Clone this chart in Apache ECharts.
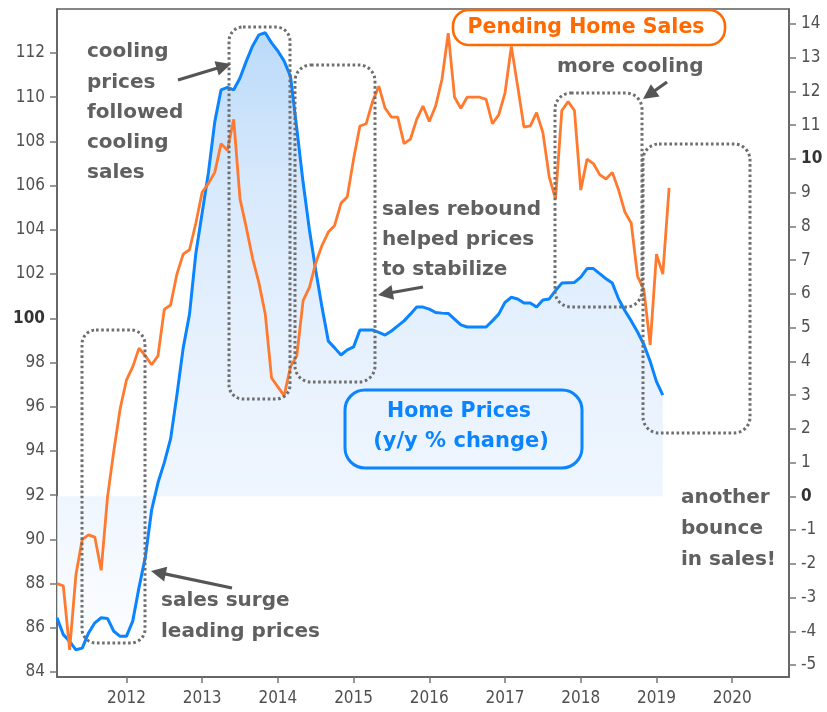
<!DOCTYPE html>
<html>
<head>
<meta charset="utf-8">
<script src="https://cdn.jsdelivr.net/npm/echarts@6/dist/echarts.min.js"></script>
<style>
html, body { margin: 0; padding: 0; background: #fff; }
#chart { width: 827px; height: 712px; }
</style>
</head>
<body>
<div id="chart"></div>
<script>
// 月份类目：2011-02 到 2020-10
var months = [];
for (var yr = 2011; yr <= 2020; yr++) {
	for (var mo = 1; mo <= 12; mo++) {
		if ((yr === 2011 && mo < 2) || (yr === 2020 && mo > 10)) continue;
		months.push(yr + '-' + (mo < 10 ? '0' : '') + mo);
	}
}

// Pending Home Sales index (left axis), from 2011-02
var pendingSales = [
	88.0, 87.9, 85.0, 88.4, 90.0, 90.2, 90.1, 88.6, 91.9, 94.0, 95.9, 97.2,
	97.8, 98.65, 98.3, 97.9, 98.3, 100.4, 100.6, 102.0, 102.9, 103.1, 104.3, 105.7,
	106.1, 106.6, 107.9, 107.6, 109.0, 105.4, 104.1, 102.7, 101.6, 100.2, 97.3, 96.9,
	96.5, 97.8, 98.3, 100.8, 101.4, 102.5, 103.3, 103.9, 104.2, 105.2, 105.5, 107.2,
	108.7, 108.8, 109.8, 110.5, 109.5, 109.1, 109.1, 107.9, 108.1, 109.0, 109.6, 108.9,
	109.6, 110.8, 112.9, 110.0, 109.5, 110.0, 110.0, 110.0, 109.9, 108.8, 109.2, 110.2,
	112.3, 110.5, 108.65, 108.7, 109.3, 108.4, 106.4, 105.4, 109.4, 109.8, 109.4, 105.8,
	107.2, 107.0, 106.5, 106.3, 106.6, 105.8, 104.8, 104.3, 101.9, 101.3, 98.8, 102.9,
	102.0, 105.9
];

// Home prices y/y % change (right axis), from 2011-02
var homePrices = [
	-3.6, -4.1, -4.3, -4.55, -4.5, -4.05, -3.75, -3.6, -3.62, -4.0, -4.15, -4.15,
	-3.7, -2.7, -1.8, -0.4, 0.4, 1.0, 1.7, 3.0, 4.4, 5.4, 7.2, 8.4,
	9.6, 11.1, 12.05, 12.12, 12.05, 12.4, 12.9, 13.35, 13.68, 13.74, 13.44, 13.2,
	12.9, 12.45, 10.9, 9.3, 7.9, 6.7, 5.6, 4.6, 4.4, 4.19, 4.34, 4.43,
	4.93, 4.93, 4.93, 4.86, 4.78, 4.9, 5.05, 5.2, 5.4, 5.61, 5.61, 5.55,
	5.45, 5.43, 5.42, 5.25, 5.08, 5.02, 5.02, 5.02, 5.02, 5.2, 5.4, 5.75,
	5.9, 5.85, 5.73, 5.73, 5.61, 5.82, 5.85, 6.1, 6.32, 6.33, 6.34, 6.5,
	6.75, 6.75, 6.6, 6.45, 6.32, 5.85, 5.5, 5.2, 4.87, 4.5, 4.0, 3.4,
	3.0
];

var leftTicks = [84, 86, 88, 90, 92, 94, 96, 98, 100, 102, 104, 106, 108, 110, 112];
var rightTicks = [-5, -4, -3, -2, -1, 0, 1, 2, 3, 4, 5, 6, 7, 8, 9, 10, 11, 12, 13, 14];

var FONT = '"DejaVu Sans", Verdana, sans-serif';
var AXFONT = '"DejaVu Sans Condensed", "DejaVu Sans", sans-serif';
var GRAY = '#606060';
var AXCOL = '#505050';

function arrow(x1, y1, x2, y2) {
	var dx = x2 - x1, dy = y2 - y1, len = Math.sqrt(dx * dx + dy * dy);
	var ux = dx / len, uy = dy / len;
	var hl = 15, hw = 7.5;
	var bx = x2 - ux * hl, by = y2 - uy * hl;
	return [
		{ type: 'line', z: 100, shape: { x1: x1, y1: y1, x2: bx + ux * 2, y2: by + uy * 2 }, style: { stroke: '#555', lineWidth: 3.2 } },
		{ type: 'polygon', z: 100, shape: { points: [[x2, y2], [bx - uy * hw, by + ux * hw], [bx + uy * hw, by - ux * hw]] }, style: { fill: '#555' } }
	];
}

function dotBox(x1, y1, x2, y2, r) {
	return { type: 'rect', z: 100, shape: { x: x1, y: y1, width: x2 - x1, height: y2 - y1, r: r },
		style: { fill: 'none', stroke: '#6e6e6e', lineWidth: 3, lineDash: [2.6, 2.6] } };
}

function label(lines, x, y, step) {
	var out = [];
	for (var i = 0; i < lines.length; i++) {
		out.push({ type: 'text', z: 101, x: x, y: y + i * step,
			style: { text: lines[i], font: 'bold 20px ' + FONT, fill: GRAY,
				align: 'left', textAlign: 'left', verticalAlign: 'middle', textVerticalAlign: 'middle' } });
	}
	return out;
}

var graphics = [].concat(
	dotBox(82, 330, 145, 643, 14),
	dotBox(229, 27, 290, 399, 14),
	dotBox(295, 65, 375, 382, 16),
	dotBox(555, 93, 642, 307, 16),
	dotBox(643, 144, 750, 433, 16),
	label(['cooling', 'prices', 'followed', 'cooling', 'sales'], 87, 52, 30.3),
	label(['sales rebound', 'helped prices', 'to stabilize'], 382, 210, 30),
	label(['more cooling'], 557, 67, 30),
	label(['another', 'bounce', 'in sales!'], 681, 498, 31),
	label(['sales surge', 'leading prices'], 161, 601, 31),
	arrow(178, 80, 231, 64),
	arrow(423, 287, 378, 295),
	arrow(667, 82, 643, 99),
	arrow(232, 588, 151, 571),
	[
		{ type: 'rect', z: 102, shape: { x: 453, y: 10, width: 272, height: 35, r: 16 },
			style: { fill: '#fff', stroke: '#ff6a00', lineWidth: 2.6 } },
		{ type: 'text', z: 103, x: 586, y: 28,
			style: { text: 'Pending Home Sales', font: 'bold 20.5px ' + FONT, fill: '#ff6a00',
				align: 'center', textAlign: 'center', verticalAlign: 'middle', textVerticalAlign: 'middle' } },
		{ type: 'rect', z: 102, shape: { x: 345, y: 390, width: 237, height: 78, r: 20 },
			style: { fill: 'none', stroke: '#0a84ff', lineWidth: 3 } },
		{ type: 'text', z: 103, x: 459, y: 412,
			style: { text: 'Home Prices', font: 'bold 20.5px ' + FONT, fill: '#0a84ff',
				align: 'center', textAlign: 'center', verticalAlign: 'middle', textVerticalAlign: 'middle' } },
		{ type: 'text', z: 103, x: 461, y: 442,
			style: { text: '(y/y % change)', font: 'bold 21px ' + FONT, fill: '#0a84ff',
				align: 'center', textAlign: 'center', verticalAlign: 'middle', textVerticalAlign: 'middle' } }
	]
);

var myChart = echarts.init(document.getElementById('chart'));

option = {
	animation: false,
	grid: {
		left: 57, right: 38, top: 9, bottom: 35,
		show: true, borderColor: '#5e5e5e', borderWidth: 1.5, backgroundColor: 'transparent'
	},
	xAxis: {
		type: 'category',
		data: months,
		boundaryGap: false,
		axisLine: { onZero: false, lineStyle: { color: '#5e5e5e', width: 1.5 } },
		axisTick: {
			length: 6,
			lineStyle: { color: '#777', width: 1.5 },
			interval: function (i, v) { return v.slice(5) === '01'; }
		},
		axisLabel: {
			interval: function (i, v) { return v.slice(5) === '01'; },
			formatter: function (v) { return v.slice(0, 4); },
			color: AXCOL, fontFamily: AXFONT, fontSize: 17, margin: 13
		},
		splitLine: { show: false }
	},
	yAxis: [
		{
			type: 'value',
			position: 'left',
			min: 83.774, max: 113.99,
			splitNumber: 15,
			axisLine: { show: true, lineStyle: { color: '#5e5e5e', width: 1.5 } },
			axisTick: { show: true, length: 7, customValues: leftTicks, lineStyle: { color: '#777', width: 1.5 } },
			axisLabel: {
				customValues: leftTicks,
				margin: 12,
				color: AXCOL, fontFamily: AXFONT, fontSize: 17,
				formatter: function (v) {
					if (Math.abs(v - Math.round(v)) > 1e-6 || Math.round(v) % 2 !== 0) return '';
					return v === 100 ? '{b|100}' : String(v);
				},
				rich: { b: { fontWeight: 'bold', color: '#333', fontFamily: AXFONT, fontSize: 17 } }
			},
			splitLine: { show: false }
		},
		{
			type: 'value',
			position: 'right',
			min: -5.356, max: 14.445,
			splitNumber: 20,
			axisLine: { show: true, lineStyle: { color: '#5e5e5e', width: 1.5 } },
			axisTick: { show: true, length: 7, customValues: rightTicks, lineStyle: { color: '#777', width: 1.5 } },
			axisLabel: {
				customValues: rightTicks,
				margin: 12,
				color: AXCOL, fontFamily: AXFONT, fontSize: 17,
				formatter: function (v) {
					if (Math.abs(v - Math.round(v)) > 1e-6) return '';
					return (v === 0 || v === 10) ? '{b|' + v + '}' : String(v);
				},
				rich: { b: { fontWeight: 'bold', color: '#333', fontFamily: AXFONT, fontSize: 17 } }
			},
			splitLine: { show: false }
		}
	],
	series: [
		{
			name: 'Home Prices',
			type: 'line',
			yAxisIndex: 1,
			data: homePrices,
			symbol: 'none',
			lineStyle: { color: '#0a84ff', width: 3 },
			itemStyle: { color: '#0a84ff' },
			areaStyle: {
				origin: 0,
				color: new echarts.graphic.LinearGradient(0, 0, 0, 1, [
					{ offset: 0, color: '#9dcaf6' },
					{ offset: 0.25, color: '#c6dffa' },
					{ offset: 0.5, color: '#dbeafc' },
					{ offset: 0.75, color: '#e7f1fd' },
					{ offset: 1, color: '#fbfdff' }
				])
			},
			z: 2
		},
		{
			name: 'Pending Home Sales',
			type: 'line',
			yAxisIndex: 0,
			data: pendingSales,
			symbol: 'none',
			lineStyle: { color: '#ff7a2e', width: 2.8 },
			itemStyle: { color: '#ff7a2e' },
			z: 3
		}
	],
	graphic: graphics
};

myChart.setOption(option);
</script>
</body>
</html>
